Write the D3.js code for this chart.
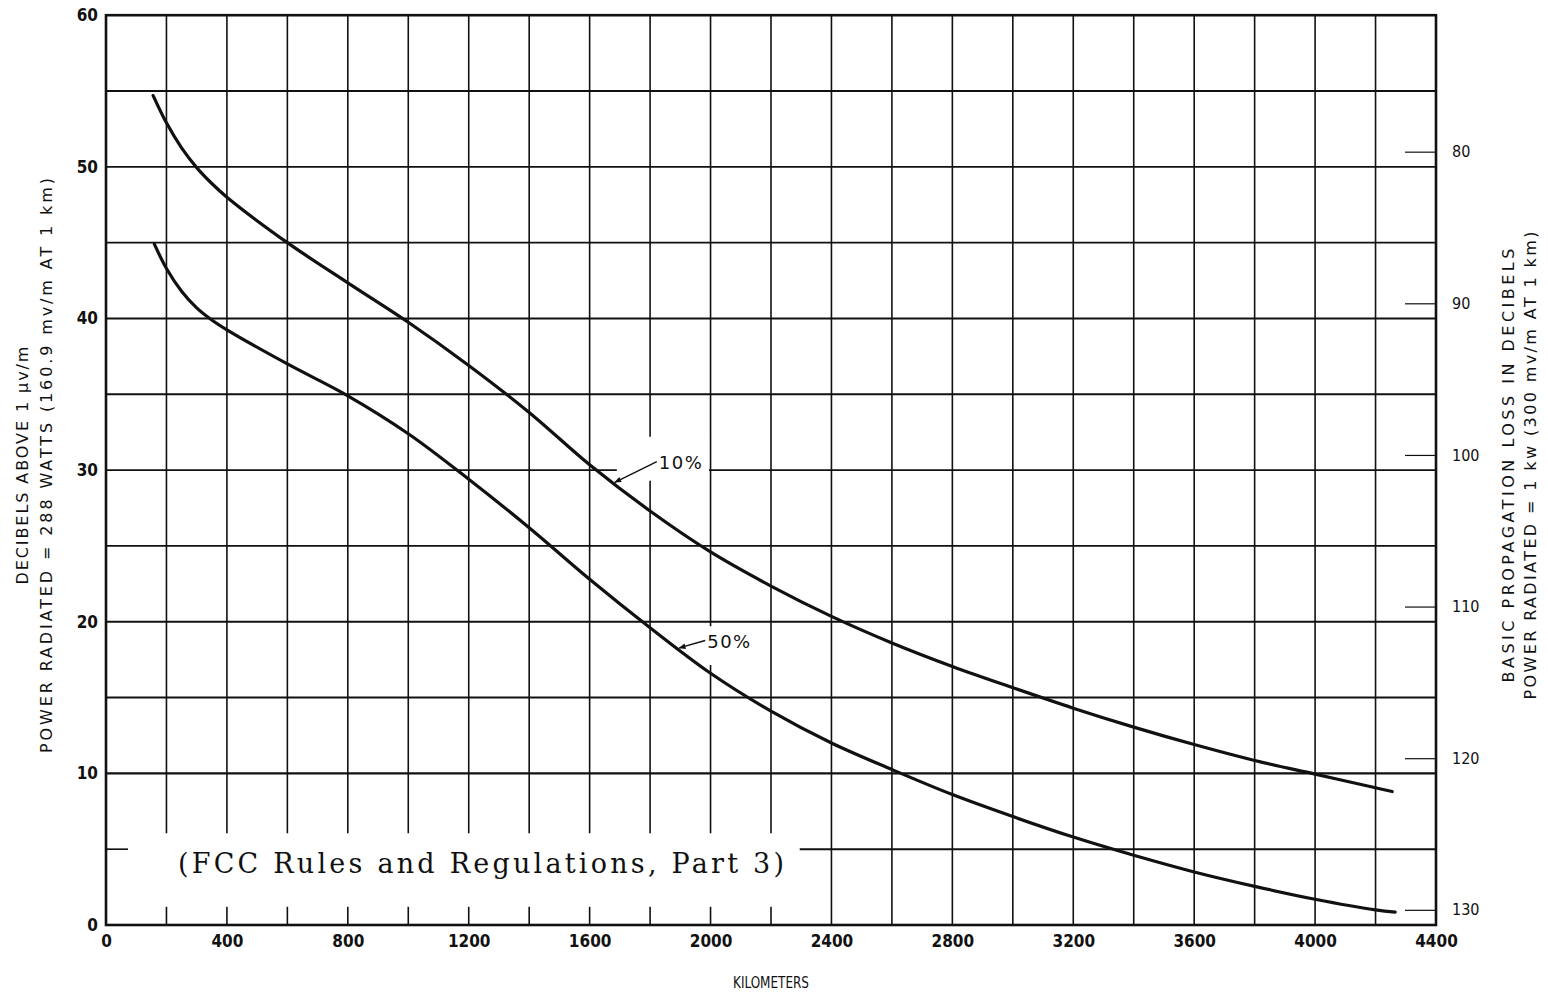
<!DOCTYPE html>
<html>
<head>
<meta charset="utf-8">
<script src="https://cdn.jsdelivr.net/npm/d3@7"></script>
<style>
  html, body { margin: 0; background: #fff; }
  svg { display: block; }
  .tick text { font-family: "DejaVu Sans Condensed", "DejaVu Sans", sans-serif; font-stretch: condensed; font-weight: bold; font-size: 17px; fill: #111; }
  .loss .tick text { font-weight: normal; font-size: 16px; }
  .title { font-family: "DejaVu Sans", sans-serif; font-size: 16px; fill: #111; }
  .pct { font-family: "DejaVu Sans", sans-serif; font-size: 18px; fill: #111; }
  .note { font-family: "DejaVu Serif", "Liberation Serif", serif; font-size: 27px; fill: #111; }
</style>
</head>
<body>
<svg id="chart" width="1548" height="994"></svg>
<script>
// Field strength vs distance, exceeded 10% and 50% of the time
const km10 = [156, 200, 250, 300, 350, 400, 600, 800, 1000, 1200, 1400, 1600, 1800, 2000, 2200, 2400, 2600, 2800, 3000, 3200, 3400, 3600, 3800, 4000, 4200, 4255];
const db10 = [54.7, 52.9, 51.25, 49.95, 48.9, 48.0, 45.0, 42.35, 39.75, 36.9, 33.8, 30.35, 27.3, 24.6, 22.35, 20.35, 18.6, 17.05, 15.65, 14.3, 13.05, 11.9, 10.85, 9.95, 9.05, 8.8];
const km50 = [160, 200, 250, 300, 350, 400, 600, 800, 1000, 1200, 1400, 1600, 1800, 2000, 2200, 2400, 2600, 2800, 3000, 3200, 3400, 3600, 3800, 4000, 4200, 4265];
const db50 = [44.9, 43.3, 41.8, 40.7, 39.9, 39.25, 37.0, 34.9, 32.4, 29.4, 26.2, 22.8, 19.6, 16.6, 14.1, 12.0, 10.25, 8.6, 7.15, 5.8, 4.6, 3.5, 2.55, 1.7, 1.0, 0.85];

// Axis ticks and grid
const kmLabels = [0, 400, 800, 1200, 1600, 2000, 2400, 2800, 3200, 3600, 4000, 4400];
const kmGrid = [200, 400, 600, 800, 1000, 1200, 1400, 1600, 1800, 2000, 2200, 2400, 2600, 2800, 3000, 3200, 3400, 3600, 3800, 4000, 4200];
const dbLabels = [0, 10, 20, 30, 40, 50, 60];
const dbGrid = [5, 10, 15, 20, 25, 30, 35, 40, 45, 50, 55];
const lossLabels = [80, 90, 100, 110, 120, 130];
const curveNames = ["10%", "50%"];

const svg = d3.select("#chart");
const ink = "#111";

const x = d3.scaleLinear().domain([0, 4400]).range([106, 1436]);
const y = d3.scaleLinear().domain([0, 60]).range([925, 15.2]);
// basic transmission loss = 131 dB minus field strength
const yLoss = d3.scaleLinear().domain([131, 71]).range([925, 15.2]);

// grid
const grid = svg.append("g");
grid.selectAll("line.h").data(dbGrid).join("line")
  .attr("x1", x(0)).attr("x2", x(4400))
  .attr("y1", d => y(d)).attr("y2", d => y(d))
  .attr("stroke", ink).attr("stroke-width", d => d === 10 ? 2.4 : 1.9);
grid.selectAll("line.v").data(kmGrid).join("line")
  .attr("x1", d => x(d)).attr("x2", d => x(d))
  .attr("y1", y(0)).attr("y2", y(60))
  .attr("stroke", ink).attr("stroke-width", 1.6);

// blank areas around the footnote and the curve labels
const blanks = [
  { k0: 0, k1: 2295, d0: 1.2, d1: 6.05 },
  { k0: 1685, k1: 1995, d0: 29.3, d1: 32.2 },
  { k0: 1950, k1: 2050, d0: 17.15, d1: 19.7 }
];
svg.append("g").selectAll("rect").data(blanks).join("rect")
  .attr("x", d => x(d.k0) + 1.5).attr("width", d => x(d.k1) - x(d.k0) - 1.5)
  .attr("y", d => y(d.d1)).attr("height", d => y(d.d0) - y(d.d1))
  .attr("fill", "#fff");

// short stub of the 5 dB line on the left edge
svg.append("line")
  .attr("x1", x(0)).attr("x2", x(0) + 22).attr("y1", y(5)).attr("y2", y(5))
  .attr("stroke", ink).attr("stroke-width", 1.6);

// frame
svg.append("rect")
  .attr("x", x(0)).attr("y", y(60)).attr("width", x(4400) - x(0)).attr("height", y(0) - y(60))
  .attr("fill", "none").attr("stroke", ink).attr("stroke-width", 2.6);

// axes
const fmt = d3.format("d");
const gl = svg.append("g").attr("transform", `translate(${x(0)},0)`)
  .call(d3.axisLeft(y).tickValues(dbLabels).tickFormat(fmt).tickSize(0).tickPadding(8));
gl.select(".domain").remove();

const gb = svg.append("g").attr("transform", `translate(0,${y(0)})`)
  .call(d3.axisBottom(x).tickValues(kmLabels).tickFormat(fmt).tickSize(0).tickPadding(10));
gb.select(".domain").remove();

const gr = svg.append("g").attr("class", "loss").attr("transform", `translate(${x(4400)},0)`)
  .call(d3.axisRight(yLoss).tickValues(lossLabels).tickFormat(fmt).tickSizeInner(-31).tickSizeOuter(0).tickPadding(16));
gr.select(".domain").remove();
gr.selectAll(".tick line").attr("stroke", ink).attr("stroke-width", 1.2);

// curves
const line = d3.line().x(d => x(d[0])).y(d => y(d[1])).curve(d3.curveCatmullRom.alpha(0.5));
const series = [d3.zip(km10, db10), d3.zip(km50, db50)];
svg.append("g").selectAll("path").data(series).join("path")
  .attr("d", line).attr("fill", "none").attr("stroke", ink)
  .attr("stroke-width", 3.2).attr("stroke-linecap", "round").attr("stroke-linejoin", "round");

// curve labels with arrows
svg.append("defs").append("marker")
  .attr("id", "head").attr("viewBox", "0 0 10 10").attr("refX", 9).attr("refY", 5)
  .attr("markerWidth", 10).attr("markerHeight", 7).attr("markerUnits", "userSpaceOnUse")
  .attr("orient", "auto")
  .append("path").attr("d", "M0,1 L10,5 L0,9 Z").attr("fill", ink);

const interp = (ks, ds, k) => {
  const i = d3.bisectLeft(ks, k);
  const t = (k - ks[i - 1]) / (ks[i] - ks[i - 1]);
  return ds[i - 1] + t * (ds[i] - ds[i - 1]);
};
const notes = [
  { name: curveNames[0], tipKm: 1680, tipDb: interp(km10, db10, 1680), tx: x(1680) + 45, ty: y(30.1) },
  { name: curveNames[1], tipKm: 1893, tipDb: interp(km50, db50, 1893), tx: x(1893) + 29, ty: y(18.3) }
];
notes.forEach(n => {
  svg.append("line")
    .attr("x1", n.tx - 2).attr("y1", n.ty - 7)
    .attr("x2", x(n.tipKm) + 1).attr("y2", y(n.tipDb) - 1)
    .attr("stroke", ink).attr("stroke-width", 1.4).attr("marker-end", "url(#head)");
  svg.append("text").attr("class", "pct").attr("x", n.tx).attr("y", n.ty)
    .attr("letter-spacing", 1.5).text(n.name);
});

// footnote
svg.append("text").attr("class", "note")
  .attr("x", x(0) + 72).attr("y", y(3.4))
  .attr("textLength", 606).attr("lengthAdjust", "spacing")
  .text("(FCC Rules and Regulations, Part 3)");

// axis titles
const titles = [
  { t: "DECIBELS ABOVE 1 μv/m", cx: 22, len: 238 },
  { t: "POWER RADIATED = 288  WATTS (160.9 mv/m AT 1 km)", cx: 46, len: 575 },
  { t: "BASIC PROPAGATION LOSS IN DECIBELS", cx: 1508, len: 434 },
  { t: "POWER RADIATED = 1 kw (300 mv/m AT 1 km)", cx: 1530, len: 468 }
];
const midY = y(30.3);
titles.forEach(d => {
  svg.append("text").attr("class", "title")
    .attr("transform", `translate(${d.cx + 6},${midY}) rotate(-90)`)
    .attr("text-anchor", "middle")
    .attr("textLength", d.len).attr("lengthAdjust", "spacing")
    .text(d.t);
});
svg.append("text").attr("class", "title")
  .attr("x", x(2200)).attr("y", 988).attr("text-anchor", "middle")
  .style("font-size", "15px").style("font-stretch", "condensed")
  .attr("font-family", "DejaVu Sans Condensed")
  .attr("textLength", 76).attr("lengthAdjust", "spacingAndGlyphs")
  .text("KILOMETERS");
</script>
</body>
</html>
